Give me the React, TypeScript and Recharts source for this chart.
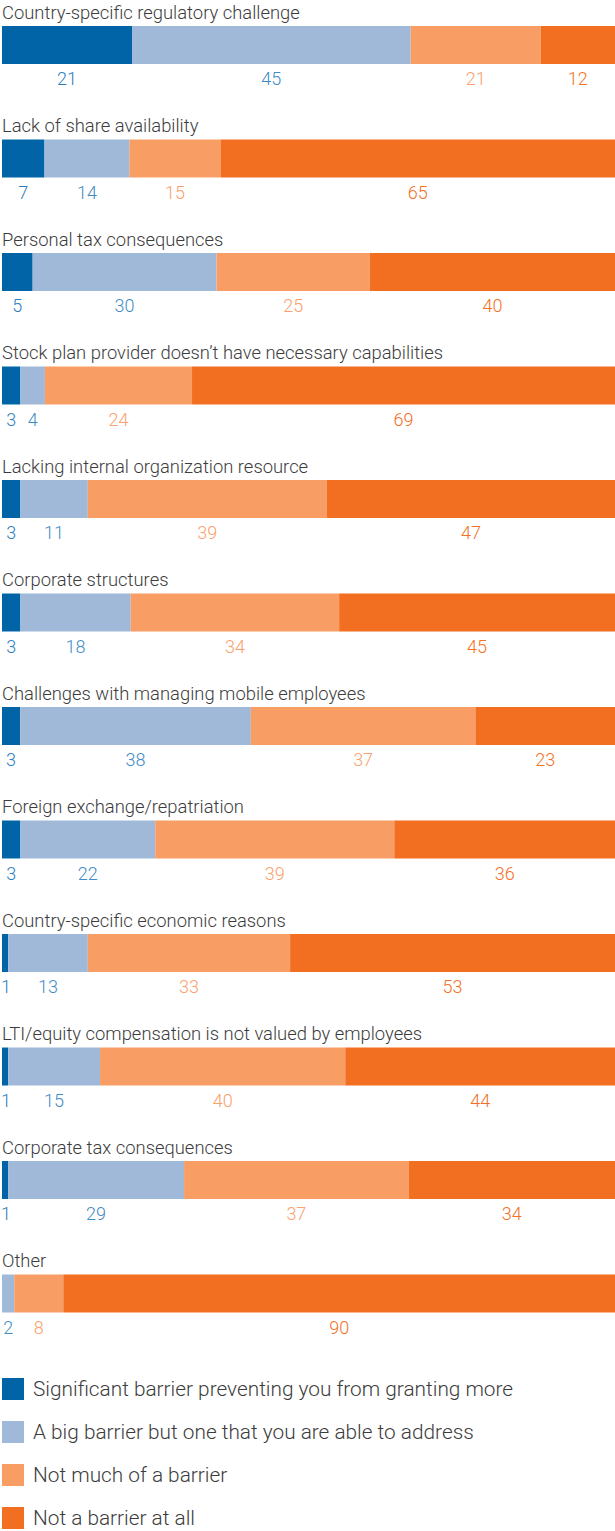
import { Bar, BarChart, LabelList, Legend, XAxis, YAxis } from 'recharts'

const categories = [
  'Country-specific regulatory challenge',
  'Lack of share availability',
  'Personal tax consequences',
  'Stock plan provider doesn\u2019t have necessary capabilities',
  'Lacking internal organization resource',
  'Corporate structures',
  'Challenges with managing mobile employees',
  'Foreign exchange/repatriation',
  'Country-specific economic reasons',
  'LTI/equity compensation is not valued by employees',
  'Corporate tax consequences',
  'Other',
]

const significant = [21, 7, 5, 3, 3, 3, 3, 3, 1, 1, 1, 0]
const bigBarrier = [45, 14, 30, 4, 11, 18, 38, 22, 13, 15, 29, 2]
const notMuch = [21, 15, 25, 24, 39, 34, 37, 39, 33, 40, 37, 8]
const notAtAll = [12, 65, 40, 69, 47, 45, 23, 36, 53, 44, 34, 90]

const seriesInfos = [
  { key: 'significant', label: 'Significant barrier preventing you from granting more', fill: '#0064a6', text: '#2c7dbd' },
  { key: 'bigBarrier', label: 'A big barrier but one that you are able to address', fill: '#a0b9d9', text: '#3f8cc6' },
  { key: 'notMuch', label: 'Not much of a barrier', fill: '#f89d64', text: '#f9a06c' },
  { key: 'notAtAll', label: 'Not a barrier at all', fill: '#f26f22', text: '#f27126' },
]

const data = categories.map((name, idx) => ({
  name,
  significant: significant[idx],
  bigBarrier: bigBarrier[idx],
  notMuch: notMuch[idx],
  notAtAll: notAtAll[idx],
}))

const FONT = 'Roboto, "Liberation Sans", sans-serif'
const TEXT_COLOR = '#3c3c3c'

const TitleTick = (props: any) => {
  const { y, payload } = props
  return (
    <text x={2} y={y - 26} fill={TEXT_COLOR} fontSize={18.4} fontFamily={FONT} fontWeight={300}>
      {payload.value}
    </text>
  )
}

const makeValueLabel = (color: string) => (props: any) => {
  const { x, y, width, height, value } = props
  if (!value) return null
  const cx = Math.max(Number(x) + Number(width) / 2, 6)
  return (
    <text
      x={cx}
      y={Number(y) + Number(height) + 21}
      textAnchor="middle"
      fill={color}
      fontSize={18}
      fontFamily={FONT}
      fontWeight={300}
    >
      {value}
    </text>
  )
}

const LegendContent = () => (
  <div style={{ height: 190, paddingTop: 17, boxSizing: 'border-box', fontFamily: FONT }}>
    {seriesInfos.map((s) => (
      <div key={s.key} style={{ display: 'flex', alignItems: 'center', height: 43, paddingLeft: 2 }}>
        <span style={{ width: 22, height: 22, background: s.fill, marginRight: 9, flexShrink: 0 }} />
        <span style={{ fontSize: 20.8, color: TEXT_COLOR, fontWeight: 300, whiteSpace: 'nowrap' }}>{s.label}</span>
      </div>
    ))}
  </div>
)

export default function App() {
  return (
    <div style={{ position: 'fixed', top: 0, left: 0, width: 615, height: 1531, overflow: 'hidden', background: '#fff' }}>
      <div style={{ position: 'absolute', top: -12, left: 0 }}>
        <BarChart
          width={615}
          height={1552}
          data={data}
          layout="vertical"
          stackOffset="expand"
          margin={{ top: 0, right: 0, bottom: 0, left: 0 }}
        >
          <XAxis type="number" domain={[0, 1]} hide />
          <YAxis
            type="category"
            dataKey="name"
            width={2}
            axisLine={false}
            tickLine={false}
            interval={0}
            tick={<TitleTick />}
          />
          <Legend verticalAlign="bottom" align="left" content={<LegendContent />} />
          {seriesInfos.map((s) => (
            <Bar key={s.key} dataKey={s.key} stackId="a" fill={s.fill} barSize={38} isAnimationActive={false}>
              <LabelList dataKey={s.key} content={makeValueLabel(s.text)} />
            </Bar>
          ))}
        </BarChart>
      </div>
    </div>
  )
}
